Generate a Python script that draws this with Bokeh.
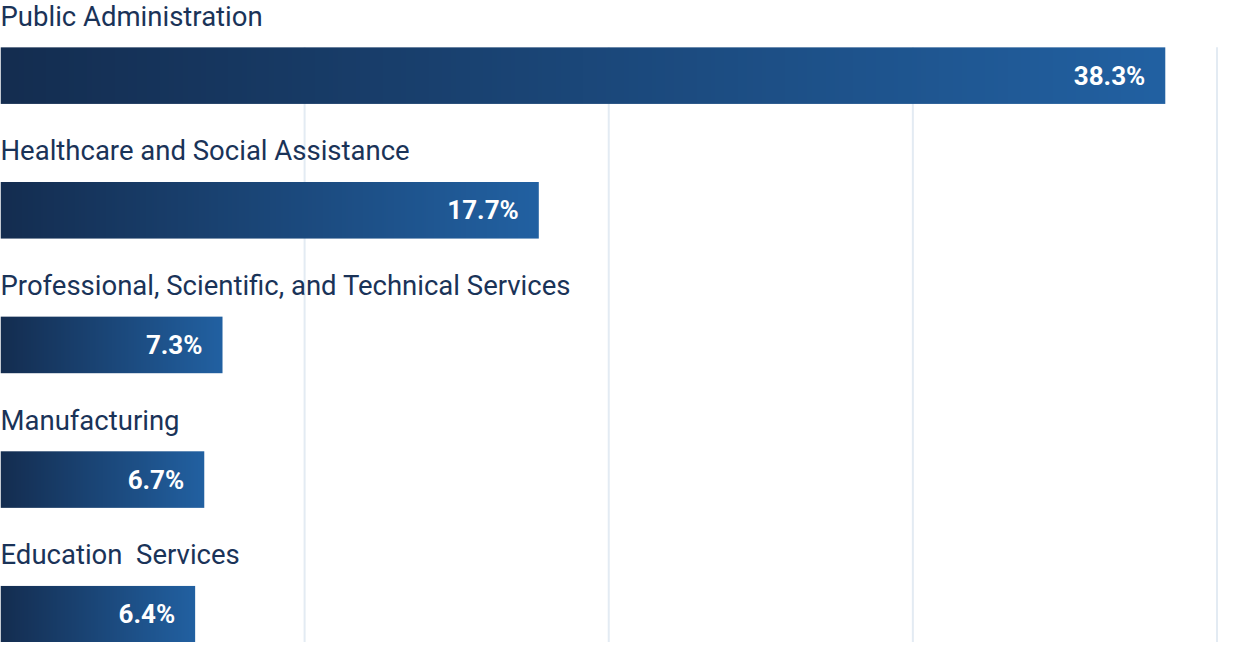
import numpy as np
from bokeh.plotting import figure
from bokeh.models import Range1d, ColumnDataSource
from bokeh.core.properties import value
from bokeh.embed import file_html
from bokeh.resources import INLINE

industries = [
    "Public Administration",
    "Healthcare and Social Assistance",
    "Professional, Scientific, and Technical Services",
    "Manufacturing",
    "Education \u00a0Services",
]
shares = [38.3, 17.7, 7.3, 6.7, 6.4]
grid_ticks = [10, 20, 30, 40]

DARK = (20, 45, 80)
LIGHT = (34, 97, 162)
TEXT = "#1a3358"
GRID = "#e3ebf3"

rows = list(range(len(industries)))
bar_h = 0.42

p = figure(width=1218, height=642, output_backend="svg", toolbar_location=None,
           x_range=Range1d(0, 40.05), y_range=Range1d(4.21, -0.558),
           min_border=0, outline_line_color=None)
p.axis.visible = False
p.grid.visible = False

# vertical guide lines, starting at the top of the first bar
bar_top = rows[0] - bar_h / 2
p.segment(x0=grid_ticks, x1=grid_ticks, y0=[bar_top] * len(grid_ticks),
          y1=[p.y_range.start] * len(grid_ticks), line_color=GRID, line_width=2)


def gradient(n=256):
    t = np.linspace(0, 1, n)
    img = np.empty((1, n), dtype=np.uint32)
    view = img.view(dtype=np.uint8).reshape((1, n, 4))
    for k in range(3):
        view[0, :, k] = (DARK[k] + (LIGHT[k] - DARK[k]) * t).astype(np.uint8)
    view[0, :, 3] = 255
    return img


grad = gradient()
for r, v in zip(rows, shares):
    p.image_rgba(image=[grad], x=v / 2, y=r, dw=v, dh=bar_h, anchor="center")

label_src = ColumnDataSource(dict(
    x=[0] * len(rows), y=[r - 0.442 for r in rows], text=industries))
p.text(x="x", y="y", text="text", source=label_src, text_font=value("Roboto"),
       text_font_size="27.5px", text_color=TEXT, text_baseline="middle", x_offset=0)

val_src = ColumnDataSource(dict(
    x=shares, y=rows, text=[f"{v}%" for v in shares]))
p.text(x="x", y="y", text="text", source=val_src, text_font=value("Roboto"),
       text_font_size="26px", text_font_style="bold", text_color="white",
       text_align="right", text_baseline="middle", x_offset=-20)

open("out.html", "w").write(file_html(p, INLINE))
